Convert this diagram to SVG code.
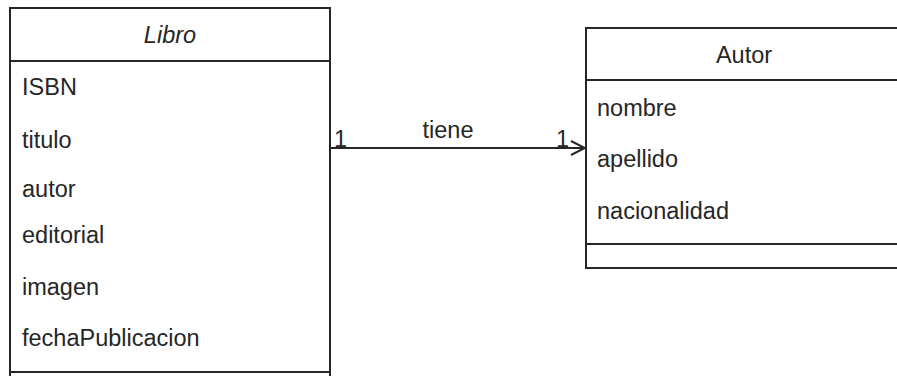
<svg xmlns="http://www.w3.org/2000/svg" width="897" height="376" viewBox="0 0 897 376">
<style>
.box{fill:#fff;stroke:#262626;stroke-width:2}
.ln{stroke:#262626;stroke-width:2;fill:none}
text{font-family:"Liberation Sans",Arial,sans-serif;font-size:23.5px;fill:#262626}
.c{text-anchor:middle}
.i{font-style:italic}
</style>
<defs>
<marker id="open" viewBox="0 0 16 16" refX="15" refY="8" markerWidth="16" markerHeight="16" markerUnits="userSpaceOnUse" orient="auto">
<path d="M1,1 L15,8 L1,15" fill="none" stroke="#262626" stroke-width="2"/>
</marker>
</defs>
<rect width="897" height="376" fill="#fff"/>
<g id="libro">
<rect class="box" x="10" y="8" width="320" height="380"/>
<line class="ln" x1="10" y1="61" x2="330" y2="61"/>
<line class="ln" x1="10" y1="372" x2="330" y2="372"/>
<text class="c i" x="170" y="43">Libro</text>
<text x="22" y="95">ISBN</text>
<text x="22" y="148">titulo</text>
<text x="22" y="197">autor</text>
<text x="22" y="243">editorial</text>
<text x="22" y="295">imagen</text>
<text x="22" y="346">fechaPublicacion</text>
</g>
<g id="autor">
<rect class="box" x="586" y="28" width="316" height="240"/>
<line class="ln" x1="586" y1="80" x2="902" y2="80"/>
<line class="ln" x1="586" y1="244" x2="902" y2="244"/>
<text class="c" x="744" y="63">Autor</text>
<text x="597" y="116">nombre</text>
<text x="597" y="167">apellido</text>
<text x="597" y="219">nacionalidad</text>
</g>
<g id="connectors">
<line class="ln" x1="330" y1="148" x2="585" y2="148" marker-end="url(#open)"/>
<text class="c" x="448" y="138">tiene</text>
<text x="334" y="147">1</text>
<text x="556" y="147">1</text>
</g>
</svg>
